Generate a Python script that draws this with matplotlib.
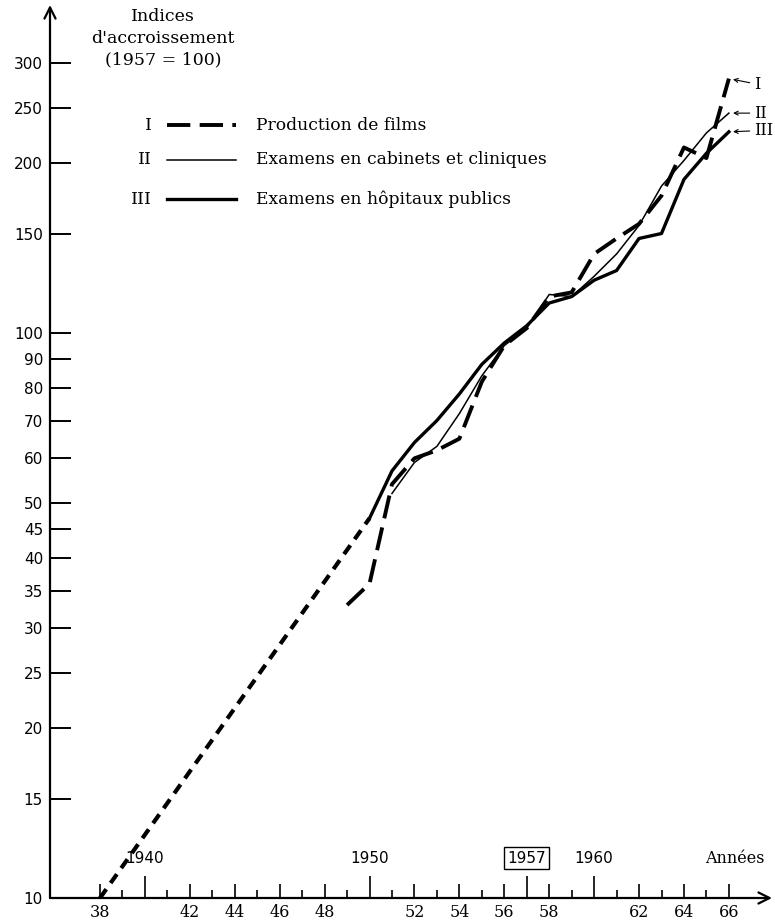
import numpy as np
import matplotlib.pyplot as plt
from matplotlib.ticker import FixedLocator, FixedFormatter, NullLocator
from matplotlib.transforms import blended_transform_factory

# --- données (indices, 1957 = 100) ---
# I : production de films
years_films = list(range(1949, 1967))
films = [33, 36, 54, 60, 62, 65, 82, 95, 102, 116, 118, 138, 147, 156, 175, 213, 204, 282]

# II : examens en cabinets et cliniques
years_cab = list(range(1951, 1967))
cabinets = [52, 59, 63, 72, 84, 95, 102, 117, 116, 126, 138, 155, 182, 202, 226, 245]

# III : examens en hôpitaux publics
years_hop = list(range(1950, 1967))
hopitaux = [47, 57, 64, 70, 78, 88, 96, 103, 113, 116, 124, 129, 147, 150, 187, 208, 227]

# extrapolation pointillée vers 1938
years_ext = [1938, 1950]
extrap = [10, 47]

y_ticks = [10, 15, 20, 25, 30, 35, 40, 45, 50, 60, 70, 80, 90, 100, 150, 200, 250, 300]
x_years = list(range(1938, 1967))
x_labelled = [1938, 1942, 1944, 1946, 1948, 1952, 1954, 1956, 1958, 1962, 1964, 1966]
x_top = [1940, 1950, 1957, 1960]
numerals = ["I", "II", "III"]
labels = ["Production de films", "Examens en cabinets et cliniques",
          "Examens en hôpitaux publics"]

SERIF = "DejaVu Serif"
SANS = "DejaVu Sans"

# styles
st_films = dict(color="black", lw=2.8, ls=(0, (6, 2.4)), solid_capstyle="butt")
st_cab = dict(color="black", lw=1.1)
st_hop = dict(color="black", lw=2.4)
st_ext = dict(color="black", lw=3.0, ls=(0, (2.6, 1.8)))

fig = plt.figure(figsize=(7.75, 9.22), dpi=100)
W, H = 775, 922
X0, X1, Y0, Y1 = 50, 772, 898, 5   # pixels du cadre
ax = fig.add_axes([X0 / W, (H - Y0) / H, (X1 - X0) / W, (Y0 - Y1) / H])
ax.set_yscale("log")
px_year = 22.46
ax.set_xlim(1938 - (100 - X0) / px_year, 1938 + (X1 - 100) / px_year)
ax.set_ylim(10, 10 * 10 ** ((Y0 - Y1) / 565))

ax.plot(years_ext, extrap, **st_ext)
ax.plot(years_films, films, **st_films)
ax.plot(years_cab, cabinets, **st_cab)
ax.plot(years_hop, hopitaux, **st_hop)

# axes avec flèches
for s in ax.spines.values():
    s.set_visible(False)
arrow = dict(arrowstyle="->", lw=1.6, mutation_scale=20, shrinkA=0, shrinkB=0, color="black")
ax.annotate("", xy=(0, 1), xytext=(0, 0), xycoords="axes fraction", arrowprops=arrow)
ax.annotate("", xy=(1, 0), xytext=(0, 0), xycoords="axes fraction", arrowprops=arrow)

# axe y
ax.yaxis.set_major_locator(FixedLocator(y_ticks))
ax.yaxis.set_major_formatter(FixedFormatter([str(v) for v in y_ticks]))
ax.yaxis.set_minor_locator(NullLocator())
ax.tick_params(axis="y", direction="in", length=15, width=1.4, pad=5, labelsize=11)
for t in ax.get_yticklabels():
    t.set_fontfamily(SANS)

# axe x
ax.xaxis.set_major_locator(FixedLocator(x_years))
ax.xaxis.set_major_formatter(FixedFormatter(
    [str(y)[2:] if y in x_labelled else "" for y in x_years]))
ax.xaxis.set_minor_locator(NullLocator())
ax.tick_params(axis="x", direction="in", width=1.2, pad=4, labelsize=11.5)
for t in ax.get_xticklabels():
    t.set_fontfamily(SERIF)
for y, tk in zip(x_years, ax.xaxis.get_major_ticks()):
    if y in x_top:
        tk.tick1line.set_markersize(16)
    elif y % 2 == 0:
        tk.tick1line.set_markersize(10)
    else:
        tk.tick1line.set_markersize(6)

def fx(px):
    return (px - X0) / (X1 - X0)

def fy(py):
    return (Y0 - py) / (Y0 - Y1)

trans = blended_transform_factory(ax.transData, ax.transAxes)
for y in x_top:
    box = None
    if y == 1957:
        box = dict(boxstyle="square,pad=0.2", fc="white", ec="black", lw=1)
    ax.text(y, fy(858), str(y), transform=trans, ha="center", va="center",
            fontsize=11, family=SANS, bbox=box)
ax.text(1966.25, fy(858), "Années", transform=trans, ha="center", va="center",
        fontsize=11.5, family=SERIF)

ax.text(fx(163), fy(8), "Indices\nd'accroissement\n(1957 = 100)",
        transform=ax.transAxes, ha="center", va="top", fontsize=12.5,
        family=SERIF, linespacing=1.35)

# légende
rows = [fy(125), fy(160), fy(199)]
for yy, num, lab, st in zip(rows, numerals, labels, [st_films, st_cab, st_hop]):
    ax.text(fx(152), yy, num, transform=ax.transAxes, ha="right", va="center",
            fontsize=12.5, family=SERIF)
    ax.plot([fx(167), fx(236)], [yy, yy], transform=ax.transAxes, **st)
    ax.text(fx(256), yy, lab, transform=ax.transAxes, ha="left", va="center",
            fontsize=12.3, family=SERIF)

# repères en bout de courbe
ends = [(years_films[-1], films[-1], -4), (years_cab[-1], cabinets[-1], 0),
        (years_hop[-1], hopitaux[-1], 1)]
for (x, v, dy), num in zip(ends, numerals):
    ax.annotate(num, xy=(x, v), xytext=(18, dy), textcoords="offset points",
                ha="left", va="center", fontsize=11.5, family=SERIF,
                arrowprops=dict(arrowstyle="->", lw=0.8, mutation_scale=7,
                                shrinkA=1, shrinkB=3, color="black"))

fig.savefig("out.png", dpi=100)
